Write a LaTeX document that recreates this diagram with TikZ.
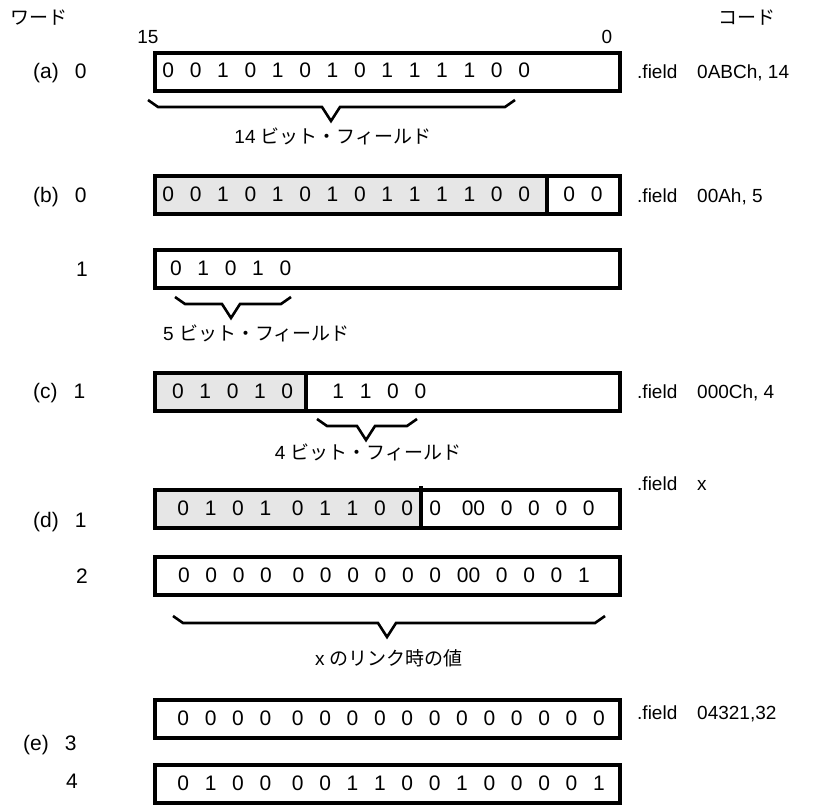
\documentclass[tikz,border=0pt]{standalone}
\usepackage{fontspec}
\setmainfont{Liberation Sans}
\newfontfamily\jpfont{Noto Sans CJK JP}
\usepackage{xcolor}
\definecolor{fieldgray}{HTML}{E6E6E6}
\usepackage{tikz}
\tikzset{
  boxline/.style={line width=3.2pt},
  braceline/.style={line width=2.6pt},
  txt/.style={anchor=base west, inner sep=0pt},
  ctxt/.style={anchor=base, inner sep=0pt},
  wlabel/.style={txt, font=\fontsize{21}{24}\selectfont}
}
\newcommand{\bitgap}{\hspace{20.7pt}}
\newcommand{\bits}[1]{{\fontsize{21}{24}\selectfont\spaceskip=15.7pt\relax #1}}
\newcommand{\codeop}[1]{\makebox[60pt][l]{.field}#1}
\newcommand{\wordbox}[1]{% y-top  (plain word)
  \draw[boxline] (155,#1) rectangle (620,#1+38);
}
\newcommand{\wordboxG}[2]{% y-top, x-split  (gray left part)
  \fill[fieldgray] (155,#1) rectangle (#2,#1+38);
  \draw[boxline] (155,#1) rectangle (620,#1+38) (#2,#1) -- (#2,#1+38);
}
\newcommand{\fieldbrace}[4]{% x-start, x-end, x-apex, y
  \draw[braceline] (#1,#4-7) -- (#1+10,#4) -- (#3-9,#4) -- (#3,#4+14)
    -- (#3+9,#4) -- (#2-10,#4) -- (#2,#4-7);
}

\begin{document}
\begin{tikzpicture}[x=1pt, y=-1pt, font=\fontsize{19}{22}\selectfont]
  \useasboundingbox (0,0) rectangle (834,805);

  % Headers
  \node[txt] (hdrWord) at (10,25) {\jpfont ワード};
  \node[txt] (hdrCode) at (718,25) {\jpfont コード};
  \node[ctxt] (msb) at (148,44) {15};
  \node[ctxt] (lsb) at (607,44) {0};

  % (a) 14-bit field
  \wordbox{53}
  \node[wlabel] (wA) at (33,79) {(a)\hspace{16pt}0};
  \node[txt] (bitsA) at (162.2,78) {\bits{0 0 1 0 1 0 1 0 1 1 1 1 0 0}};
  \node[txt] (codeA) at (637,79) {\codeop{0ABCh, 14}};
  \fieldbrace{148}{515}{331}{107}
  \node[ctxt] (noteA) at (333,144) {14 {\jpfont ビット・フィールド}};

  % (b) 5-bit field, spills into word 1
  \wordboxG{176}{547}
  \node[wlabel] (wB) at (33,202) {(b)\hspace{16pt}0};
  \node[txt] (bitsB) at (162.2,201) {\bits{0 0 1 0 1 0 1 0 1 1 1 1 0 0}};
  \node[txt] (bitsBlow) at (563.2,201) {\bits{0 0}};
  \node[txt] (codeB) at (637,202) {\codeop{00Ah, 5}};

  \wordbox{250}
  \node[wlabel] (wB1) at (76,276) {1};
  \node[txt] (bitsB1) at (169.9,275) {\bits{0 1 0 1 0}};
  \fieldbrace{175}{291}{231}{304}
  \node[txt] (noteB) at (163,340) {5 {\jpfont ビット・フィールド}};

  % (c) 4-bit field
  \wordboxG{373}{306}
  \node[wlabel] (wC) at (33,398) {(c)\hspace{16pt}1};
  \node[txt] (bitsC) at (171.8,398) {\bits{0 1 0 1 0}};
  \node[txt] (bitsCnew) at (332.2,398) {\bits{1 1 0 0}};
  \node[txt] (codeC) at (637,398) {\codeop{000Ch, 4}};
  \fieldbrace{317}{417}{366}{426}
  \node[ctxt] (noteC) at (368,459) {4 {\jpfont ビット・フィールド}};

  % (d) field x, value fixed at link time
  \wordboxG{490}{421}
  \draw[boxline] (421,486) -- (421,490);
  \node[wlabel] (wD) at (33,527) {(d)\hspace{16pt}1};
  \node[txt] (bitsD) at (177.2,515) {\bits{0 1 0 1\bitgap 0 1 1 0 0}};
  \node[txt] (bitsDpad) at (429.2,515) {\bits{0\bitgap 00 0 0 0 0}};
  \node[txt] (codeD) at (637,490) {\codeop{x}};

  \wordbox{557}
  \node[wlabel] (wD2) at (76,583) {2};
  \node[txt] (bitsD2) at (177.9,582) {\bits{0 0 0 0\bitgap 0 0 0 0 0 0 00 0 0 0 1}};
  \fieldbrace{173}{605}{387}{623}
  \node[ctxt] (noteD) at (389,665) {x {\jpfont のリンク時の値}};

  % (e) 32-bit field
  \wordbox{700}
  \node[wlabel] (wE) at (23,750) {(e)\hspace{16pt}3};
  \node[txt] (bitsE) at (177.2,725) {\bits{0 0 0 0\bitgap 0 0 0 0 0 0 0 0 0 0 0 0}};
  \node[txt] (codeE) at (637,719) {\codeop{04321,32}};

  \wordbox{765}
  \node[wlabel] (wE2) at (66,788) {4};
  \node[txt] (bitsE2) at (177.2,790) {\bits{0 1 0 0\bitgap 0 0 1 1 0 0 1 0 0 0 0 1}};
\end{tikzpicture}
\end{document}
